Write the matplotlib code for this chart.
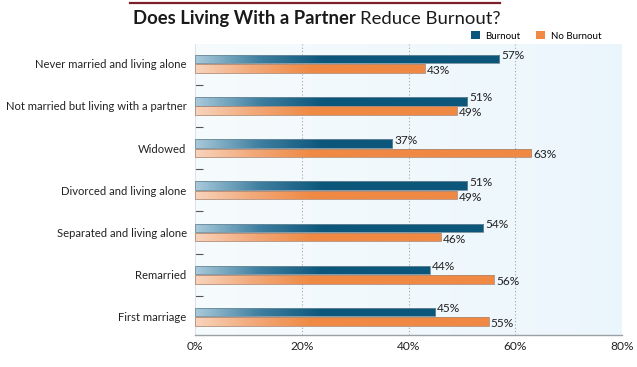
import numpy as np
import matplotlib
matplotlib.use('Agg')
import matplotlib.pyplot as plt
from matplotlib.colors import LinearSegmentedColormap
from matplotlib.patches import Patch

categories = ['Never married and living alone', 'Not married but living with a partner',
              'Widowed', 'Divorced and living alone', 'Separated and living alone',
              'Remarried', 'First marriage']
burnout = [57, 51, 37, 51, 54, 44, 45]
no_burnout = [43, 49, 63, 49, 46, 56, 55]
xticks = [0, 20, 40, 60, 80]

plt.rcParams['font.family'] = ['Lato', 'DejaVu Sans']

W, H = 637, 367
fig = plt.figure(figsize=(W / 100, H / 100), dpi=100)
ax = fig.add_axes([195 / W, 32 / H, 427 / W, 291 / H])

blue_cm = LinearSegmentedColormap.from_list('b', ['#a9cadb', '#3f7fa0', '#0c567b'])
orange_cm = LinearSegmentedColormap.from_list('o', ['#f8d4bc', '#f2a878', '#ef8943'])

y = np.arange(len(categories))
h = 0.2
b1 = ax.barh(y - h / 2 - 0.01, burnout, height=h, color='none',
             edgecolor='#6d8a99', linewidth=0.6, zorder=3)
b2 = ax.barh(y + h / 2 + 0.01, no_burnout, height=h, color='none',
             edgecolor='#b48a74', linewidth=0.6, zorder=3)


def shade(bars, cmap, span):
    for p in bars:
        w = p.get_width()
        xs = np.linspace(0, w, 300)
        t = np.clip(xs / span, 0, 1)[None, :]
        im = ax.imshow(t, cmap=cmap, vmin=0, vmax=1, aspect='auto', zorder=2.5,
                       extent=[0, w, p.get_y() + p.get_height(), p.get_y()],
                       interpolation='bilinear')
        im.set_clip_path(p)


shade(b1, blue_cm, 24)
shade(b2, orange_cm, 22)

for p, v in zip(b1, burnout):
    ax.annotate(f'{v}%', (v, p.get_y() + p.get_height() / 2), xytext=(1.5, 2.5),
                textcoords='offset points', va='center', ha='left', fontsize=8.6,
                color='#222222', zorder=5)
for p, v in zip(b2, no_burnout):
    ax.annotate(f'{v}%', (v, p.get_y() + p.get_height() / 2), xytext=(1.5, -1.5),
                textcoords='offset points', va='center', ha='left', fontsize=8.6,
                color='#222222', zorder=5)

# background gradient
bg = LinearSegmentedColormap.from_list('bg', ['#f6fbfd', '#ebf6fc'])
ax.imshow(np.linspace(0, 1, 200)[None, :], cmap=bg, aspect='auto', extent=[0, 1, 0, 1],
          transform=ax.transAxes, zorder=0)

ax.set_xlim(0, 80)
ax.set_ylim(6.43, -0.47)
ax.set_xticks(xticks)
ax.set_xticklabels([f'{v}%' for v in xticks], fontsize=8.6, color='#222222')
ax.set_yticks(y)
ax.set_yticklabels(categories, fontsize=8.1, color='#222222')
ax.set_yticks(y[:-1] + 0.5, minor=True)
ax.tick_params(axis='y', which='major', length=0, pad=6)
ax.tick_params(axis='y', which='minor', length=6, direction='in', color='#555555', width=0.8)
ax.tick_params(axis='x', length=0, pad=4)
for v in xticks[1:-1]:
    ax.axvline(v, color='#a0a8ad', linestyle=(0, (1, 2)), linewidth=0.8, zorder=1)
for s in ['top', 'right']:
    ax.spines[s].set_visible(False)
ax.spines['left'].set_color('#dde3e6')
ax.spines['left'].set_linewidth(0.8)
ax.spines['bottom'].set_color('#9aa0a4')
ax.spines['bottom'].set_linewidth(1)

# legend
handles = [Patch(facecolor='#0c567b', label='Burnout'),
           Patch(facecolor='#ef8943', label='No Burnout')]
fig.legend(handles=handles, loc='center right', bbox_to_anchor=(610 / W, 1 - 36 / H),
           ncol=2, frameon=False, fontsize=7, handlelength=0.9, handleheight=0.9,
           columnspacing=1.6, handletextpad=0.6)

# title
fig.add_artist(plt.Line2D([130 / W, 500 / W], [1 - 3 / H, 1 - 3 / H], color='#7d1f2c',
                          linewidth=1.6))
t1 = fig.text(133 / W, 1 - 24 / H, 'Does Living With a Partner', fontsize=13.3,
              fontweight='bold', color='#1a1a1a', va='baseline')
fig.canvas.draw()
bb = t1.get_window_extent()
fig.text((bb.x1 + 4) / W, 1 - 24 / H, 'Reduce Burnout?', fontsize=13.3,
         color='#1a1a1a', va='baseline')

fig.savefig('out.png', dpi=100)
